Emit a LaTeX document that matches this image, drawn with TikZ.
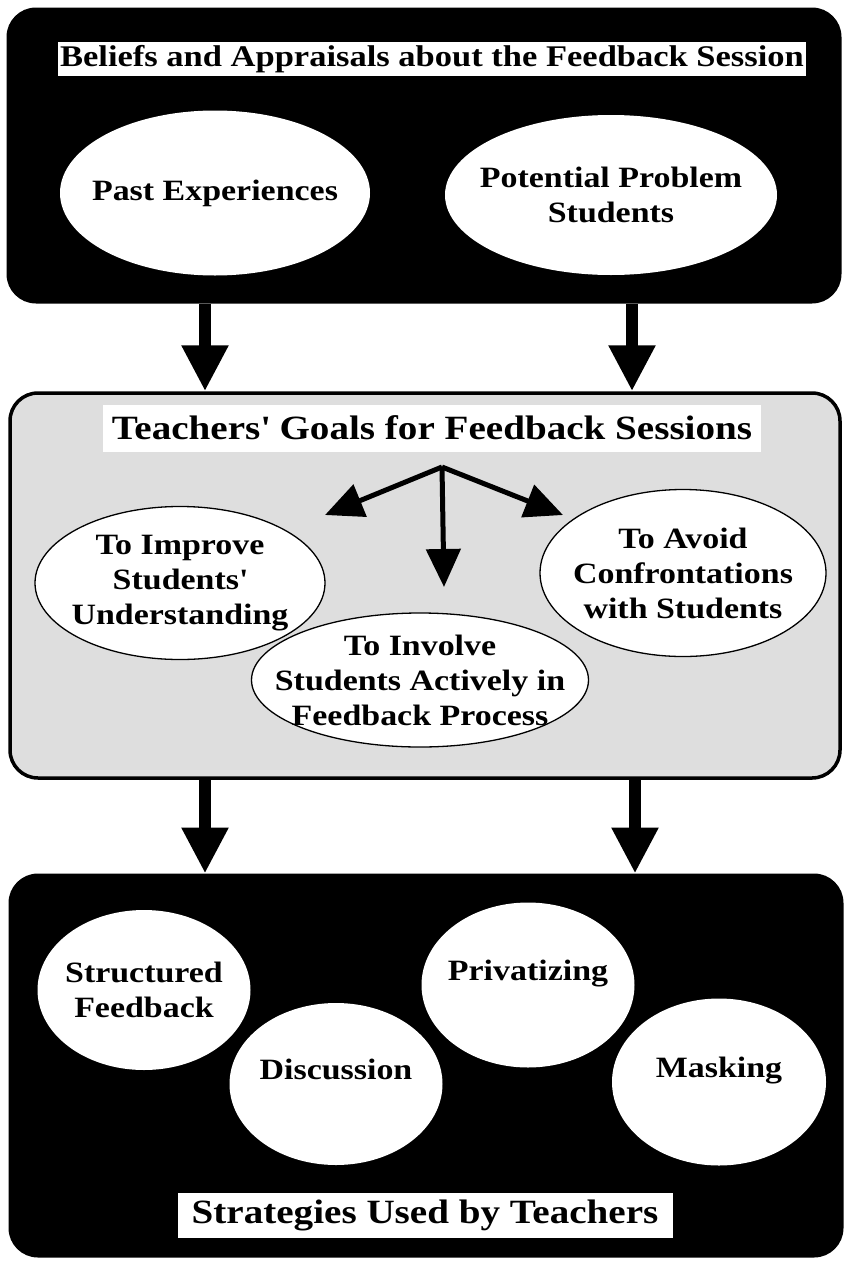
\documentclass[tikz,border=0pt]{standalone}
\usepackage{fontspec}
\setmainfont{Liberation Serif}[FakeStretch=1.15]
\usepackage{tikz}
\usetikzlibrary{arrows.meta}
\usetikzlibrary{shapes.geometric}
\usetikzlibrary{positioning}
\tikzset{>=latex}
\tikzset{
  panel/.style = {rectangle, rounded corners=28pt, line width=3pt, draw=black},
  darkpanel/.style = {panel, fill=black},
  greypanel/.style = {panel, fill=black!13, line width=3.5pt},
  heading/.style = {rectangle, fill=white, inner sep=0pt, font=\bfseries\fontsize{34}{38}\selectfont},
  oval/.style = {ellipse, fill=white, inner sep=-30pt, align=center, font=\bfseries\fontsize{29.5}{35}\selectfont},
  ringoval/.style = {oval, draw=black, line width=1.3pt},
  fatarrow/.style = {line width=12pt, -{Triangle[length=46pt,width=44pt]}},
  forkarrow/.style = {line width=5pt, -{Triangle[length=38pt,width=34pt]}}
}

\begin{document}
\begin{tikzpicture}[x=1pt, y=-1pt]
\useasboundingbox (0, 0) rectangle (846, 1261);
\node [darkpanel, minimum width=832pt, minimum height=293pt] (beliefs) at (424, 155.5) {};
\node [greypanel, minimum width=830pt, minimum height=385pt] (goals) at (425, 585.5) {};
\node [darkpanel, minimum width=832pt, minimum height=381pt] (strategies) at (426, 1065.5) {};

\node [heading, minimum width=748pt, minimum height=34pt, font=\bfseries\fontsize{30}{34}\selectfont] (beliefstitle) at (432, 59) {Beliefs and Appraisals about the Feedback Session};
\node [oval, minimum width=310pt, minimum height=165pt] (past) at (215, 193) {Past Experiences};
\node [oval, minimum width=332pt, minimum height=160pt] (problem) at (611, 195) {Potential Problem\\Students};

\node [heading, minimum width=658pt, minimum height=47pt] (goalstitle) at (432, 428) {Teachers\textquotesingle{} Goals for Feedback Sessions};
\coordinate (fork) at (442, 467);
\coordinate (forkL) at (325, 515);
\coordinate (forkR) at (563, 515);
\coordinate (forkD) at (444, 587);
\draw [forkarrow] (fork) -- (forkL);
\draw [forkarrow] (fork) -- (forkR);
\draw [forkarrow] (fork) -- (forkD);
\node [ringoval, minimum width=290pt, minimum height=153pt] (improve) at (180, 583) {To Improve\\Students\textquotesingle\\Understanding};
\node [ringoval, minimum width=286pt, minimum height=167pt] (avoid) at (683, 573) {To Avoid\\Confrontations\\with Students};
\node [ringoval, minimum width=337pt, minimum height=134pt] (involve) at (420, 680) {To Involve\\Students Actively in\\Feedback Process};

\node [oval, minimum width=213pt, minimum height=160pt] (structured) at (144, 990) {Structured\\Feedback};
\node [oval, minimum width=213pt, minimum height=162pt, text depth=30pt] (discussion) at (336, 1084) {Discussion};
\node [oval, minimum width=213pt, minimum height=165pt, text depth=30pt] (privatizing) at (528, 985) {Privatizing};
\node [oval, minimum width=214pt, minimum height=167pt, text depth=30pt] (masking) at (719, 1082) {Masking};
\node [heading, minimum width=495pt, minimum height=45pt] (strategiestitle) at (425, 1215) {Strategies Used by Teachers};

\draw [fatarrow] ([xshift=-219pt]beliefs.south) -- ([xshift=-219pt]beliefs.south |- goals.north);
\draw [fatarrow] ([xshift=208pt]beliefs.south) -- ([xshift=208pt]beliefs.south |- goals.north);
\draw [fatarrow] ([xshift=-220pt]goals.south) -- ([xshift=-220pt]goals.south |- strategies.north);
\draw [fatarrow] ([xshift=210pt]goals.south) -- ([xshift=210pt]goals.south |- strategies.north);
\end{tikzpicture}
\end{document}
